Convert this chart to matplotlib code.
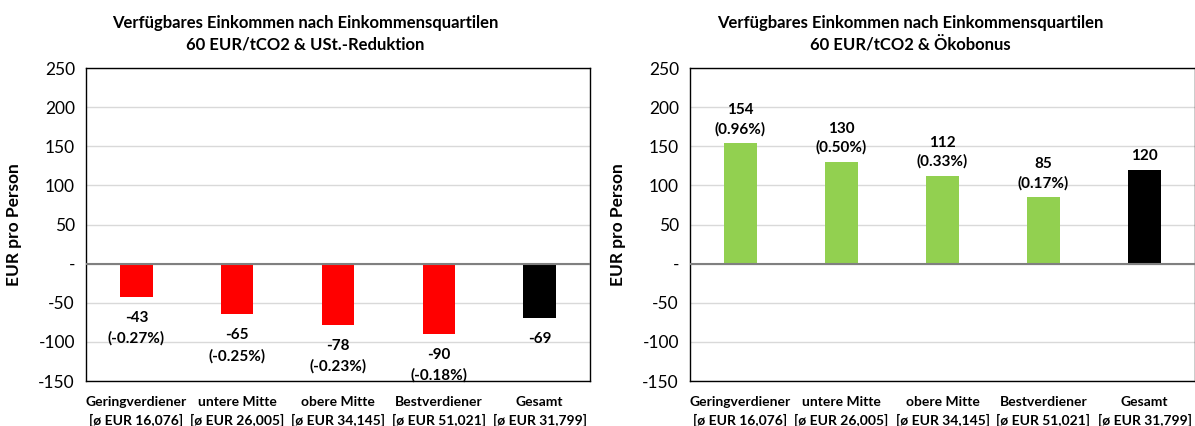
import matplotlib.pyplot as plt
import numpy as np

plt.rcParams["font.family"] = ["Lato", "DejaVu Sans"]

categories = ["Geringverdiener", "untere Mitte", "obere Mitte", "Bestverdiener", "Gesamt"]
avg_income = ["16,076", "26,005", "34,145", "51,021", "31,799"]

ust_values = [-43, -65, -78, -90, -69]
ust_shares = ["-0.27%", "-0.25%", "-0.23%", "-0.18%", None]

bonus_values = [154, 130, 112, 85, 120]
bonus_shares = ["0.96%", "0.50%", "0.33%", "0.17%", None]

titles = [
    "Verfügbares Einkommen nach Einkommensquartilen\n60 EUR/tCO2 & USt.-Reduktion",
    "Verfügbares Einkommen nach Einkommensquartilen\n60 EUR/tCO2 & Ökobonus",
]

W, H = 1195, 426
fig = plt.figure(figsize=(W / 100, H / 100), dpi=100, facecolor="white")


def px_axes(x0, x1, y0, y1):
    return fig.add_axes([x0 / W, 1 - y1 / H, (x1 - x0) / W, (y1 - y0) / H])


def draw_panel(ax, values, shares, bar_color):
    x = np.arange(len(values))
    colors = [bar_color] * (len(values) - 1) + ["black"]
    ax.bar(x, values, width=0.32, color=colors, zorder=3)
    ax.set_xlim(-0.5, len(values) - 0.5)
    ax.set_ylim(-150, 250)
    ticks = np.arange(-150, 251, 50)
    ax.set_yticks(ticks)
    ax.set_yticklabels(["-" if t == 0 else str(t) for t in ticks], fontsize=12.5)
    ax.tick_params(axis="y", length=0, pad=8)
    ax.set_xticks(x)
    ax.set_xticklabels(
        [f"{c}\n[ø EUR {a}]" for c, a in zip(categories, avg_income)],
        fontsize=10, fontweight="bold", linespacing=1.55,
    )
    ax.tick_params(axis="x", length=0, pad=11)
    ax.grid(axis="y", color="#d9d9d9", linewidth=1, zorder=0)
    ax.axhline(0, color="#808080", linewidth=1.5, zorder=4)
    for s in ax.spines.values():
        s.set_color("black")
        s.set_linewidth(1)
    ax.set_ylabel("EUR pro Person", fontsize=12.5, fontweight="bold", labelpad=12)

    for xi, v, sh in zip(x, values, shares):
        label = f"{v}" if sh is None else f"{v}\n({sh})"
        if v < 0:
            ax.annotate(label, (xi, v), xytext=(0, -10), textcoords="offset points",
                        ha="center", va="top", fontsize=11, fontweight="bold",
                        linespacing=1.55, annotation_clip=False, zorder=5)
        else:
            ax.annotate(label, (xi, v), xytext=(0, 5), textcoords="offset points",
                        ha="center", va="bottom", fontsize=11, fontweight="bold",
                        linespacing=1.4, annotation_clip=False, zorder=5)


ax1 = px_axes(86, 590, 68, 381)
draw_panel(ax1, ust_values, ust_shares, "#ff0000")
ax2 = px_axes(690, 1195, 68, 381)
draw_panel(ax2, bonus_values, bonus_shares, "#92d050")

fig.text(305 / W, 1 - 34 / H, titles[0], ha="center", va="center",
         fontsize=12, fontweight="bold", linespacing=1.4)
fig.text(910 / W, 1 - 34 / H, titles[1], ha="center", va="center",
         fontsize=12, fontweight="bold", linespacing=1.4)

fig.savefig("out.png", dpi=100, facecolor="white")
